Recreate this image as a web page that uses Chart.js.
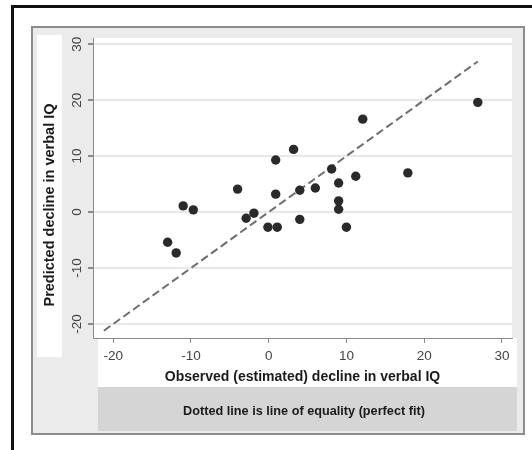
<!DOCTYPE html>
<html>
<head>
<meta charset="utf-8">
<script src="https://cdn.jsdelivr.net/npm/chart.js@4"></script>
<style>
  html, body { margin: 0; padding: 0; background: #fff; }
  #chart { display: block; }
</style>
</head>
<body>
<canvas id="chart" width="532" height="450"></canvas>
<script>
// observed (estimated) vs predicted decline in verbal IQ
const observed  = [-13.0, -11.9, -11.0, -9.7, -4.0, -2.9, -1.9, -0.1, 1.1, 0.9, 0.9, 3.2, 4.0, 4.0, 6.0, 8.1, 9.0, 9.0, 9.0, 10.0, 11.2, 12.1, 17.9, 26.9];
const predicted = [-5.4, -7.3, 1.1, 0.4, 4.1, -1.1, -0.2, -2.7, -2.7, 9.3, 3.2, 11.2, 3.9, -1.3, 4.3, 7.7, 5.2, 2.0, 0.5, -2.7, 6.4, 16.6, 7.0, 19.6];
const equalityLine = [-21.2, 26.9];
const xTicks = [-20, -10, 0, 10, 20, 30];
const yTicks = [-20, -10, 0, 10, 20, 30];
const xTitle = 'Observed (estimated) decline in verbal IQ';
const yTitle = 'Predicted decline in verbal IQ';
const note = 'Dotted line is line of equality (perfect fit)';

const FONT = '"Liberation Sans", Arial, sans-serif';

const points = observed.map((x, i) => ({ x: x, y: predicted[i] }));
const diag = equalityLine.map(v => ({ x: v, y: v }));

// panel backgrounds, frame and extra text (Stata-like look)
const decor = {
  id: 'decor',
  beforeDraw(chart) {
    const ctx = chart.ctx;
    const a = chart.chartArea;
    ctx.save();
    ctx.fillStyle = '#ffffff';
    ctx.fillRect(0, 0, chart.width, chart.height);
    // black frame (top and left)
    ctx.fillStyle = '#111';
    ctx.fillRect(11, 5, chart.width - 11, 3);
    ctx.fillRect(11, 5, 3, chart.height - 5);
    // graph panel
    ctx.fillStyle = '#ebebeb';
    ctx.fillRect(32, 27, 492, 407);
    ctx.strokeStyle = '#8c8c8c';
    ctx.lineWidth = 2;
    ctx.strokeRect(32, 27, 492, 407);
    // white strip behind y title
    ctx.fillStyle = '#ffffff';
    ctx.fillRect(37, 35, 25, 322);
    // white strip under x axis
    ctx.fillRect(98, a.bottom, 419, 49);
    // note box
    ctx.fillStyle = '#d5d5d5';
    ctx.fillRect(98, 387, 419, 44);
    // plot region
    ctx.fillStyle = '#ffffff';
    ctx.fillRect(a.left, a.top, a.right - a.left, a.bottom - a.top);
    ctx.restore();
  },
  afterDraw(chart) {
    const ctx = chart.ctx;
    const ys = chart.scales.y;
    ctx.save();
    // rotated y tick labels
    ctx.fillStyle = '#444';
    ctx.font = '13.5px ' + FONT;
    ctx.textAlign = 'center';
    ctx.textBaseline = 'middle';
    ys.ticks.forEach(t => {
      const py = ys.getPixelForValue(t.value);
      ctx.save();
      ctx.translate(77, py);
      ctx.rotate(-Math.PI / 2);
      ctx.fillText(String(t.value), 0, 0);
      ctx.restore();
    });
    // y title
    ctx.fillStyle = '#1a1a1a';
    ctx.font = 'bold 14.5px ' + FONT;
    ctx.save();
    ctx.translate(50, 205);
    ctx.rotate(-Math.PI / 2);
    ctx.fillText(yTitle, 0, 0);
    ctx.restore();
    // note
    ctx.font = 'bold 12.7px ' + FONT;
    ctx.fillText(note, 304, 411);
    ctx.restore();
  }
};

new Chart(document.getElementById('chart'), {
  data: {
    datasets: [
      {
        type: 'scatter',
        label: 'Patients',
        data: points,
        backgroundColor: '#2a2a2a',
        borderWidth: 0,
        pointRadius: 4.7,
        order: 0
      },
      {
        type: 'line',
        label: 'Line of equality',
        data: diag,
        borderColor: '#6e6e6e',
        borderWidth: 2,
        borderDash: [8, 4],
        pointRadius: 0,
        fill: false,
        order: 1
      }
    ]
  },
  options: {
    responsive: false,
    animation: false,
    devicePixelRatio: 1,
    layout: { padding: { left: 0, top: 38, right: 20, bottom: 0 } },
    plugins: {
      legend: { display: false },
      tooltip: { enabled: false }
    },
    scales: {
      x: {
        type: 'linear',
        position: 'bottom',
        min: -22.6,
        max: 31.3,
        afterBuildTicks: s => { s.ticks = xTicks.map(v => ({ value: v })); },
        afterFit: s => { s.height = 112; },
        grid: { drawOnChartArea: false, drawTicks: true, tickLength: 5, tickColor: '#8a8a8a' },
        border: { color: '#8a8a8a', width: 1 },
        ticks: { color: '#444', font: { family: FONT, size: 13.5 }, padding: 5, maxRotation: 0 },
        title: {
          display: true,
          text: xTitle,
          color: '#1a1a1a',
          font: { family: FONT, size: 14, weight: 'bold' },
          padding: { top: 0, bottom: 64 }
        }
      },
      y: {
        type: 'linear',
        min: -22.5,
        max: 31.1,
        afterBuildTicks: s => { s.ticks = yTicks.map(v => ({ value: v })); },
        afterFit: s => { s.width = 93; },
        grid: { color: '#e8e8e8', lineWidth: 2, drawTicks: true, tickLength: 5, tickColor: '#8a8a8a' },
        border: { color: '#8a8a8a', width: 1 },
        ticks: { display: false }
      }
    }
  },
  plugins: [decor]
});
</script>
</body>
</html>
